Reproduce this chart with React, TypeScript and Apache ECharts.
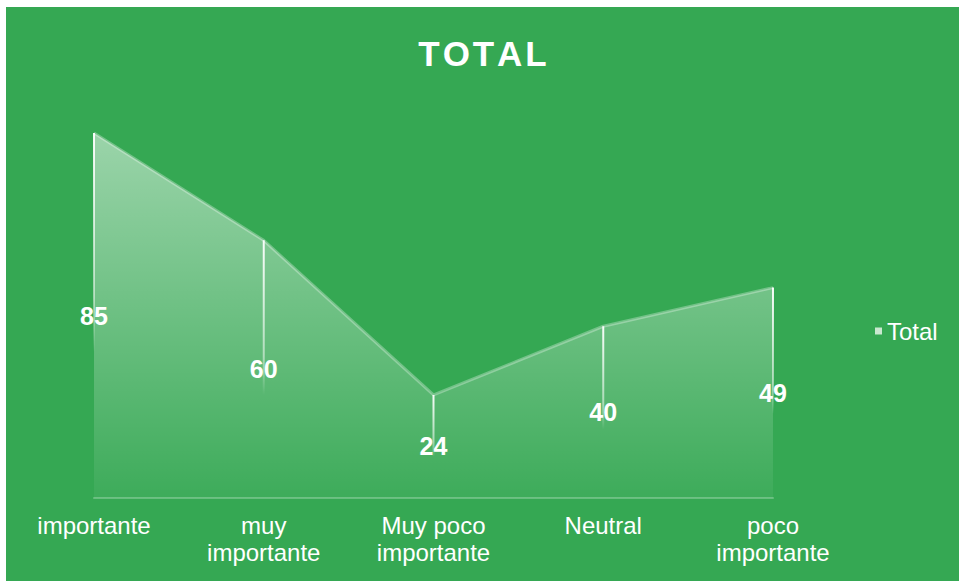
import React, { useEffect, useRef } from "react";
import * as echarts from "echarts";

const categories = ["importante", "muy\nimportante", "Muy poco\nimportante", "Neutral", "poco\nimportante"];
const totals = [85, 60, 24, 40, 49];
const seriesName = "Total";
const titleText = "TOTAL";

const FONT = "'Liberation Sans', Arial, sans-serif";

export default function App() {
  const ref = useRef<HTMLDivElement>(null);
  useEffect(() => {
    if (!ref.current) return;
    const chart = echarts.init(ref.current, undefined, { renderer: "svg" });
    chart.setOption({
      animation: false,
      backgroundColor: "#35a853",
      title: {
        text: titleText.split("").join("\u200A"),
        left: "center",
        top: 24,
        textStyle: {
          color: "#ffffff",
          fontSize: 35,
          fontWeight: "bold",
          fontFamily: FONT,
        },
      },
      legend: {
        data: [seriesName],
        orient: "vertical",
        left: 864,
        top: 307,
        icon: "rect",
        itemWidth: 7,
        itemHeight: 7,
        itemGap: 6,
        itemStyle: { color: "#c9e8cf" },
        textStyle: { color: "#ffffff", fontSize: 24, fontFamily: FONT },
      },
      grid: { left: 88, right: 186, top: 61.6, bottom: 83 },
      xAxis: {
        type: "category",
        data: categories,
        boundaryGap: false,
        axisTick: { show: false },
        axisLine: { lineStyle: { color: "rgba(255,255,255,0.25)", width: 2 } },
        axisLabel: {
          interval: 0,
          color: "#ffffff",
          fontSize: 24,
          fontFamily: FONT,
          lineHeight: 27,
          margin: 14,
        },
      },
      yAxis: { type: "value", min: 0, max: 100, show: false, splitLine: { show: false } },
      series: [
        {
          name: seriesName,
          type: "line",
          data: totals,
          symbol: "none",
          itemStyle: { color: "#c9e8cf" },
          lineStyle: { color: "rgba(255,255,255,0.3)", width: 3 },
          areaStyle: {
            color: new echarts.graphic.LinearGradient(0, 0, 0, 1, [
              { offset: 0, color: "rgba(255,255,255,0.72)" },
              { offset: 1, color: "rgba(255,255,255,0.06)" },
            ]),
          },
          z: 2,
        },
        {
          name: "drop",
          type: "bar",
          data: totals,
          barWidth: 2,
          itemStyle: {
            color: new echarts.graphic.LinearGradient(0, 0, 0, 1, [
              { offset: 0, color: "rgba(255,255,255,0.95)" },
              { offset: 0.45, color: "rgba(255,255,255,0.5)" },
              { offset: 0.6, color: "rgba(255,255,255,0)" },
              { offset: 1, color: "rgba(255,255,255,0)" },
            ]),
          },
          label: {
            show: true,
            position: "inside",
            color: "#ffffff",
            fontSize: 25,
            fontWeight: "bold",
            fontFamily: FONT,
          },
          z: 3,
        },
      ],
    });
    return () => chart.dispose();
  }, []);
  return (
    <div
      ref={ref}
      style={{ position: "fixed", left: 6, top: 7, width: 953, height: 574 }}
    />
  );
}
